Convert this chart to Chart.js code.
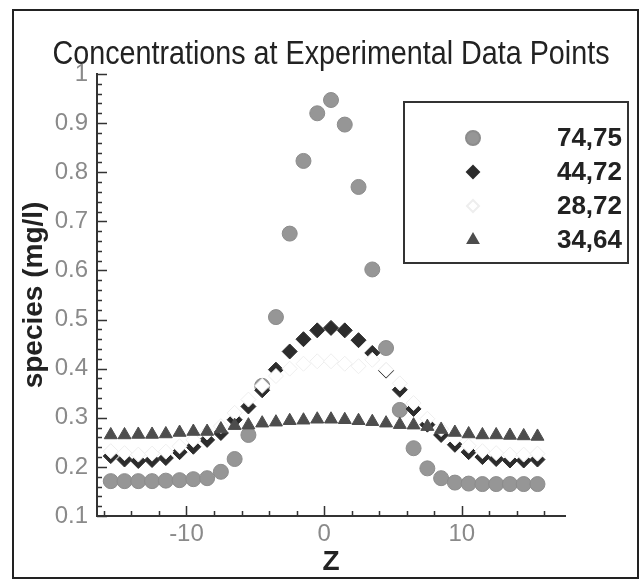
<!DOCTYPE html>
<html>
<head>
<meta charset="utf-8">
<script src="https://cdn.jsdelivr.net/npm/chart.js@4.4.1/dist/chart.umd.min.js"></script>
<style>
  html, body { margin: 0; padding: 0; background: #fff; }
  canvas { display: block; }
</style>
</head>
<body>
<canvas id="chart" width="641" height="583"></canvas>
<script>
// positions along Z where the samples were taken
const zValues = [-15.5, -14.5, -13.5, -12.5, -11.5, -10.5, -9.5, -8.5, -7.5, -6.5, -5.5, -4.5, -3.5, -2.5, -1.5, -0.5,
                 0.5, 1.5, 2.5, 3.5, 4.5, 5.5, 6.5, 7.5, 8.5, 9.5, 10.5, 11.5, 12.5, 13.5, 14.5, 15.5];

const seriesLabels = ["74,75", "44,72", "28,72", "34,64"];

const species7475 = [0.171, 0.171, 0.171, 0.171, 0.172, 0.173, 0.175, 0.177, 0.19, 0.216, 0.265, 0.365, 0.505, 0.675, 0.823, 0.92,
                     0.947, 0.897, 0.77, 0.602, 0.442, 0.316, 0.238, 0.197, 0.177, 0.168, 0.166, 0.165, 0.165, 0.165, 0.165, 0.165];
const species4472 = [0.222, 0.215, 0.212, 0.214, 0.218, 0.23, 0.241, 0.255, 0.269, 0.296, 0.323, 0.356, 0.398, 0.435, 0.46, 0.478,
                     0.483, 0.478, 0.458, 0.432, 0.396, 0.357, 0.318, 0.286, 0.265, 0.245, 0.23, 0.22, 0.216, 0.213, 0.213, 0.215];
const species2872 = [0.232, 0.228, 0.225, 0.227, 0.231, 0.242, 0.255, 0.27, 0.283, 0.31, 0.337, 0.365, 0.385, 0.4, 0.41, 0.415,
                     0.415, 0.41, 0.405, 0.418, 0.398, 0.37, 0.33, 0.298, 0.277, 0.258, 0.243, 0.232, 0.228, 0.225, 0.225, 0.227];
const species3464 = [0.265, 0.265, 0.266, 0.266, 0.267, 0.27, 0.272, 0.272, 0.277, 0.284, 0.285, 0.289, 0.291, 0.294, 0.295, 0.297,
                     0.297, 0.296, 0.294, 0.292, 0.289, 0.286, 0.285, 0.282, 0.276, 0.27, 0.267, 0.265, 0.265, 0.264, 0.263, 0.262];

const xTicks = [-10, 0, 10];
const yTicks = [0.1, 0.2, 0.3, 0.4, 0.5, 0.6, 0.7, 0.8, 0.9, 1];
const yTickLabels = ["0.1", "0.2", "0.3", "0.4", "0.5", "0.6", "0.7", "0.8", "0.9", "1"];

const chartTitle = "Concentrations at Experimental Data Points";

function toPoints(values) {
    return values.map((v, i) => ({ x: zValues[i], y: v }));
}

// tecplot style ticks that point into the plot
const inwardTicks = {
    id: "inwardTicks",
    beforeDatasetsDraw(chart) {
        const { ctx, chartArea, scales } = chart;
        ctx.save();
        ctx.strokeStyle = "#333";
        ctx.lineWidth = 1.5;
        ctx.beginPath();
        for (let k = 0; k <= 45; k++) {
            const py = Math.round(scales.y.getPixelForValue(0.1 + k * 0.02)) + 0.5;
            const len = k % 5 === 0 ? 10 : 5;
            ctx.moveTo(chartArea.left, py);
            ctx.lineTo(chartArea.left + len, py);
        }
        for (let v = -16; v <= 16; v += 2) {
            const px = Math.round(scales.x.getPixelForValue(v)) + 0.5;
            const len = v % 10 === 0 ? 10 : 5;
            ctx.moveTo(px, chartArea.bottom);
            ctx.lineTo(px, chartArea.bottom - len);
        }
        ctx.stroke();
        ctx.restore();
    }
};

const legendMarkerSize = [7, 6, 6, 6];

const insideLegend = {
    id: "insideLegend",
    afterDatasetsDraw(chart) {
        const ctx = chart.ctx;
        const box = { left: 404, top: 102, width: 224, height: 161 };
        ctx.save();
        ctx.fillStyle = "#fff";
        ctx.fillRect(box.left, box.top, box.width, box.height);
        ctx.strokeStyle = "#333";
        ctx.lineWidth = 2;
        ctx.strokeRect(box.left, box.top, box.width, box.height);

        ctx.font = "bold 26px 'Liberation Sans', Arial, sans-serif";
        ctx.textAlign = "right";
        ctx.textBaseline = "middle";
        chart.data.datasets.forEach((ds, i) => {
            const y = box.top + 36 + i * 34;
            ctx.fillStyle = ds.backgroundColor;
            ctx.strokeStyle = ds.borderColor;
            Chart.helpers.drawPoint(ctx, {
                pointStyle: ds.pointStyle,
                radius: legendMarkerSize[i],
                rotation: 0,
                borderWidth: 1
            }, box.left + 69, y);
            ctx.fillStyle = "#222";
            ctx.fillText(ds.label, box.left + box.width - 6, y + 1);
        });
        ctx.restore();
    }
};

// title and outer frame, the title is centred on the page rather than the plot
// (squeezed with maxWidth to look like the condensed face of the original)
const frameAndTitle = {
    id: "frameAndTitle",
    afterDraw(chart) {
        const ctx = chart.ctx;
        ctx.save();
        ctx.strokeStyle = "#222";
        ctx.lineWidth = 2;
        ctx.strokeRect(13, 10, 625, 568);
        ctx.fillStyle = "#222";
        ctx.font = "34px 'Liberation Sans', Arial, sans-serif";
        ctx.textAlign = "center";
        ctx.textBaseline = "middle";
        ctx.fillText(chartTitle, 331, 55, 557);
        ctx.restore();
    }
};

const ctx = document.getElementById("chart").getContext("2d");

new Chart(ctx, {
    type: "scatter",
    data: {
        datasets: [
            {
                label: seriesLabels[0],
                data: toPoints(species7475),
                order: 4,
                pointStyle: "circle",
                pointRadius: 7.5,
                backgroundColor: "#969696",
                borderColor: "#8c8c8c",
                borderWidth: 1
            },
            {
                label: seriesLabels[1],
                data: toPoints(species4472),
                order: 3,
                pointStyle: "rectRot",
                pointRadius: 7.5,
                backgroundColor: "#2c2c2c",
                borderColor: "#2c2c2c",
                borderWidth: 1
            },
            {
                label: seriesLabels[2],
                data: toPoints(species2872),
                order: 2,
                pointStyle: "rectRot",
                pointRadius: 7.5,
                backgroundColor: "#ffffff",
                borderColor: "#eeeeee",
                borderWidth: 1
            },
            {
                label: seriesLabels[3],
                data: toPoints(species3464),
                order: 1,
                pointStyle: "triangle",
                pointRadius: 7.5,
                backgroundColor: "#4d4d4d",
                borderColor: "#4d4d4d",
                borderWidth: 1
            }
        ]
    },
    options: {
        responsive: false,
        animation: false,
        devicePixelRatio: 1,
        layout: { padding: { left: 0, right: 76, top: 74, bottom: 0 } },
        plugins: {
            legend: { display: false },
            tooltip: { enabled: false },
            title: { display: false }
        },
        scales: {
            x: {
                type: "linear",
                min: -16.5,
                max: 17.5,
                afterBuildTicks: scale => { scale.ticks = xTicks.map(v => ({ value: v })); },
                afterFit: scale => { scale.height = 67; },
                grid: { display: false, drawTicks: false },
                border: { display: true, color: "#333", width: 2 },
                ticks: {
                    color: "#8a8a8a",
                    padding: 4,
                    maxRotation: 0,
                    font: { family: "'Liberation Sans', Arial, sans-serif", size: 24 }
                },
                title: {
                    display: true,
                    text: "Z",
                    color: "#222",
                    padding: { top: 0, bottom: 4 },
                    font: { family: "'Liberation Sans', Arial, sans-serif", size: 28, weight: "bold" }
                }
            },
            y: {
                type: "linear",
                min: 0.1,
                max: 1,
                afterBuildTicks: scale => { scale.ticks = yTicks.map(v => ({ value: v })); },
                afterFit: scale => { scale.width = 97; },
                grid: { display: false, drawTicks: false },
                border: { display: true, color: "#333", width: 2 },
                ticks: {
                    color: "#8a8a8a",
                    padding: 9,
                    callback: (value, index) => yTickLabels[index],
                    font: { family: "'Liberation Sans', Arial, sans-serif", size: 24 }
                },
                title: {
                    display: true,
                    text: "species (mg/l)",
                    color: "#222",
                    padding: { top: 17, bottom: 0 },
                    font: { family: "'Liberation Sans', Arial, sans-serif", size: 28, weight: "bold" }
                }
            }
        }
    },
    plugins: [inwardTicks, insideLegend, frameAndTitle]
});
</script>
</body>
</html>
